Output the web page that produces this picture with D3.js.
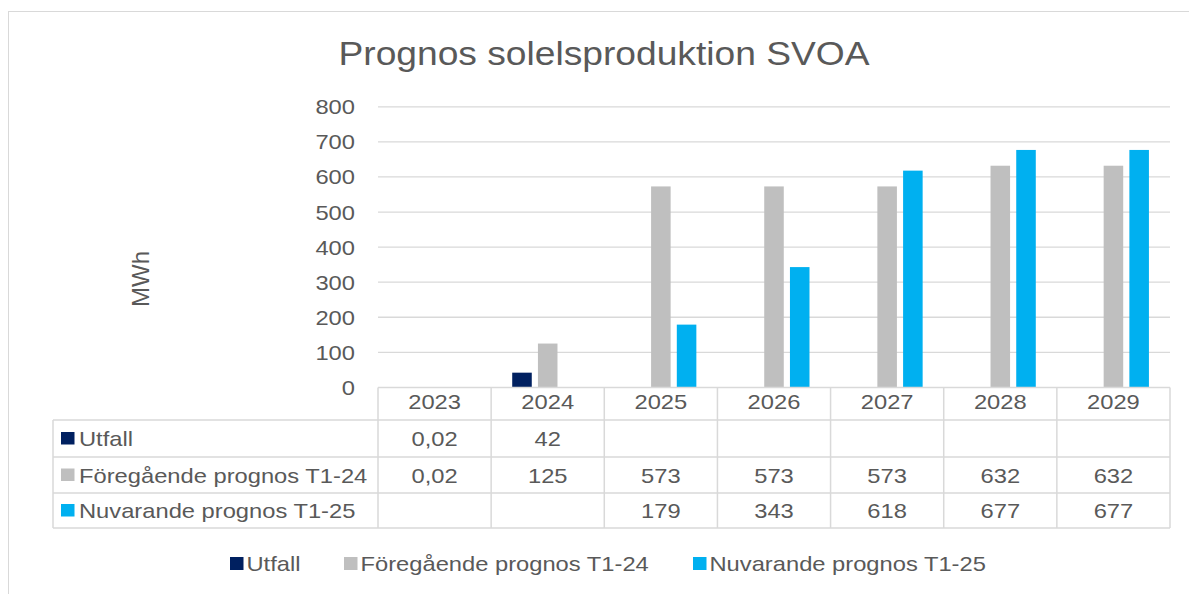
<!DOCTYPE html>
<html>
<head>
<meta charset="utf-8">
<script src="https://cdn.jsdelivr.net/npm/d3@7"></script>
<style>
  html, body { margin: 0; padding: 0; background: #fff; }
  svg { display: block; }
  text { font-family: "Liberation Sans", Arial, sans-serif; fill: #595959; }
</style>
</head>
<body>
<svg id="chart" width="1189" height="594"></svg>
<script>
// ---- data ----
const years = ["2023", "2024", "2025", "2026", "2027", "2028", "2029"];
const seriesNames = ["Utfall", "Föregående prognos T1-24", "Nuvarande prognos T1-25"];
const utfall = [0.02, 42, null, null, null, null, null];
const foregaende = [0.02, 125, 573, 573, 573, 632, 632];
const nuvarande = [null, null, 179, 343, 618, 677, 677];
const utfallLabels = ["0,02", "42", "", "", "", "", ""];
const foregaendeLabels = ["0,02", "125", "573", "573", "573", "632", "632"];
const nuvarandeLabels = ["", "", "179", "343", "618", "677", "677"];
const yTicks = [0, 100, 200, 300, 400, 500, 600, 700, 800];
const colors = ["#002060", "#bfbfbf", "#00b0f0"];
const title = "Prognos solelsproduktion SVOA";
const yTitle = "MWh";

const seriesValues = [utfall, foregaende, nuvarande];
const seriesLabels = [utfallLabels, foregaendeLabels, nuvarandeLabels];

// ---- layout ----
const SX = 1.13;
const svg = d3.select("#chart");
const gridColor = "#d9d9d9";
const plotL = 378, plotR = 1170, plotT = 106.8, plotB = 387.4;
const tableL = 53;
const rowLines = [387.4, 420, 457, 493, 528];

function stext(g, x, y, str, size, anchor, sx) {
  return g.append("text")
    .attr("transform", `translate(${x},${y}) scale(${sx || SX},1)`)
    .attr("text-anchor", anchor || "start")
    .attr("font-size", size)
    .text(str);
}

// outer border
svg.append("rect").attr("x", 8.5).attr("y", 11.5).attr("width", 1200).attr("height", 600)
  .attr("fill", "none").attr("stroke", gridColor).attr("stroke-width", 1);

// title
stext(svg, 604, 65, title, 33.5, "middle", 1.11);

const x0 = d3.scaleBand().domain(years).range([plotL, plotR]).padding(0);
const x1 = d3.scaleBand().domain(seriesNames).range([-35.5, 35.5]).paddingInner(0.24);
const y = d3.scaleLinear().domain([0, 800]).range([plotB, plotT]);

// gridlines
svg.append("g").selectAll("line").data(yTicks.filter(d => d > 0)).join("line")
  .attr("x1", plotL).attr("x2", plotR)
  .attr("y1", d => y(d)).attr("y2", d => y(d))
  .attr("stroke", gridColor).attr("stroke-width", 1.3);

// y tick labels
const yAxisG = svg.append("g");
yTicks.forEach(t => stext(yAxisG, 355, y(t) + 7.5, String(t), 21, "end", 1.13));

// y title
svg.append("text")
  .attr("transform", `translate(149,279) rotate(-90)`)
  .attr("text-anchor", "middle")
  .attr("font-size", 24)
  .text(yTitle);

// bars
const barsG = svg.append("g");
seriesNames.forEach((s, si) => {
  const data = years.map((yr, i) => ({ yr, v: seriesValues[si][i] })).filter(d => d.v != null);
  barsG.append("g").selectAll("rect").data(data).join("rect")
    .attr("x", d => x0(d.yr) + x0.bandwidth() / 2 + x1(s))
    .attr("width", x1.bandwidth())
    .attr("y", d => y(d.v))
    .attr("height", d => y(0) - y(d.v))
    .attr("fill", colors[si]);
});

// data table
const tG = svg.append("g");
// horizontal lines
tG.append("line").attr("x1", plotL).attr("x2", plotR).attr("y1", rowLines[0]).attr("y2", rowLines[0])
  .attr("stroke", gridColor).attr("stroke-width", 1.5);
rowLines.slice(1).forEach(ry => {
  tG.append("line").attr("x1", tableL).attr("x2", plotR).attr("y1", ry).attr("y2", ry)
    .attr("stroke", gridColor).attr("stroke-width", 1.5);
});
// vertical lines
const colEdges = years.map(yr => x0(yr)).concat([plotR]);
colEdges.forEach(cx => {
  tG.append("line").attr("x1", cx).attr("x2", cx).attr("y1", rowLines[0]).attr("y2", rowLines[4])
    .attr("stroke", gridColor).attr("stroke-width", 1.5);
});
tG.append("line").attr("x1", tableL).attr("x2", tableL).attr("y1", rowLines[1]).attr("y2", rowLines[4])
  .attr("stroke", gridColor).attr("stroke-width", 1.5);

// header labels
years.forEach(yr => stext(tG, x0(yr) + x0.bandwidth() / 2, 409, yr, 21, "middle"));
// rows
seriesNames.forEach((s, si) => {
  const top = rowLines[si + 1], bot = rowLines[si + 2];
  const cy = (top + bot) / 2;
  tG.append("rect").attr("x", 61).attr("y", cy - 6.5).attr("width", 13.5).attr("height", 12.5)
    .attr("fill", colors[si]);
  stext(tG, 79, cy + 7.5, s, 21, "start");
  years.forEach((yr, i) => {
    const lab = seriesLabels[si][i];
    if (lab) stext(tG, x0(yr) + x0.bandwidth() / 2, cy + 7.5, lab, 21, "middle");
  });
});

// bottom legend
const legG = svg.append("g");
const legPos = [230, 344, 693];
seriesNames.forEach((s, si) => {
  legG.append("rect").attr("x", legPos[si]).attr("y", 557).attr("width", 13.5).attr("height", 13)
    .attr("fill", colors[si]);
  stext(legG, legPos[si] + 16.5, 571, s, 21, "start");
});
</script>
</body>
</html>
